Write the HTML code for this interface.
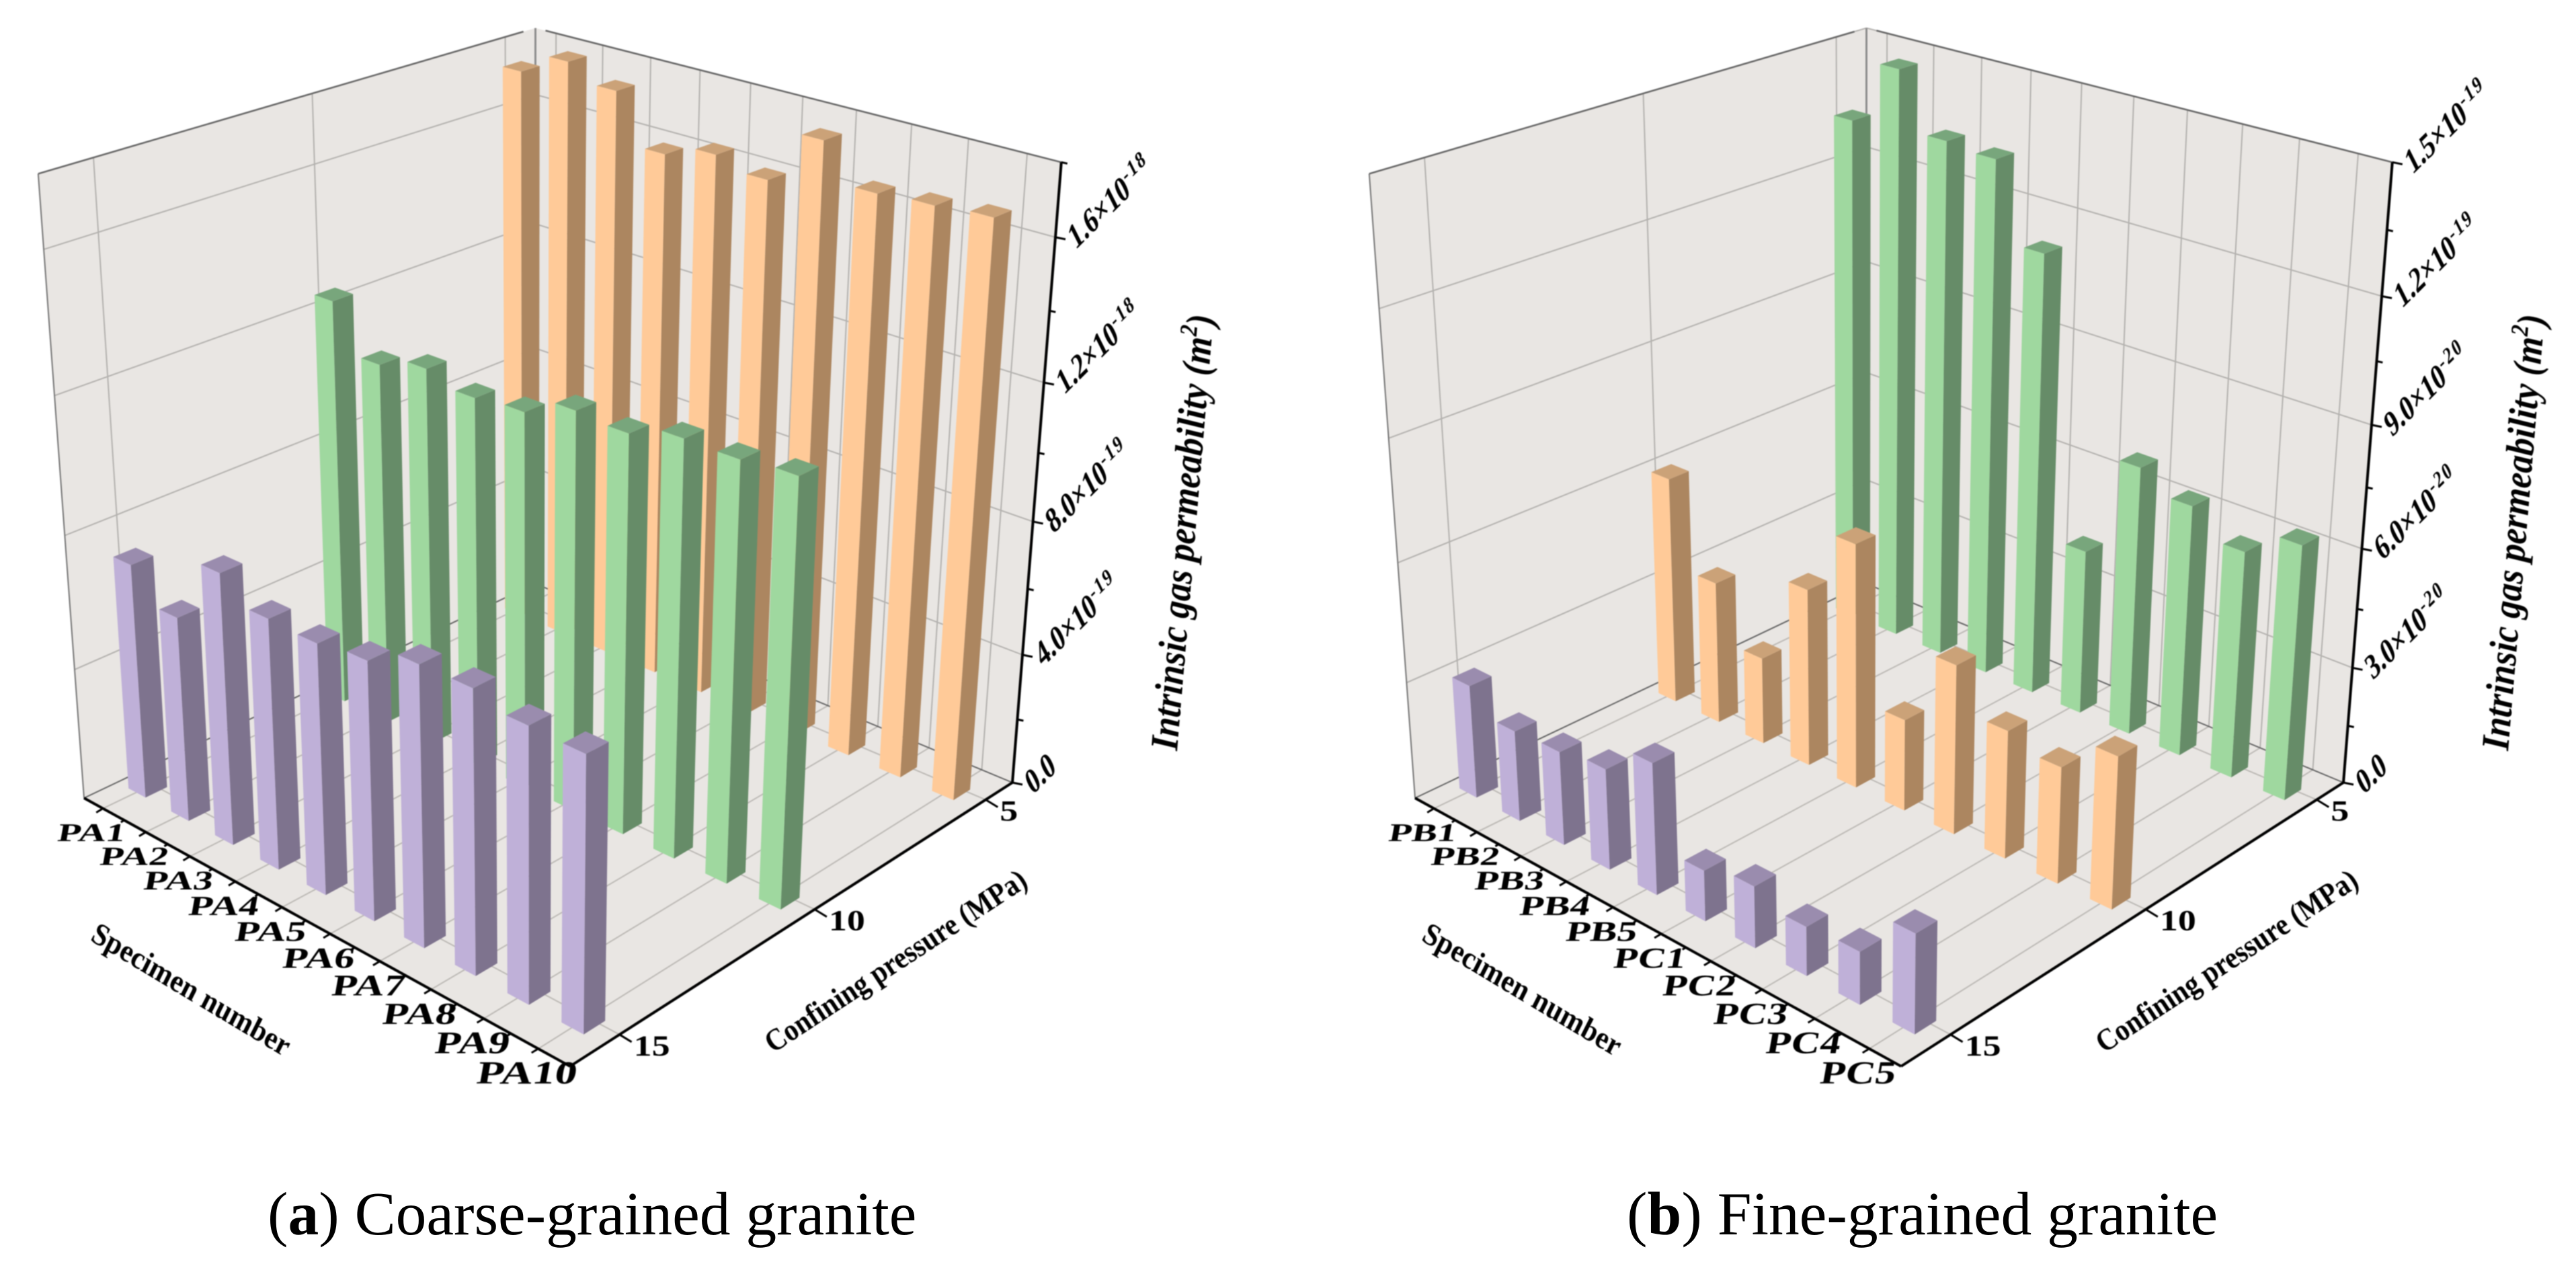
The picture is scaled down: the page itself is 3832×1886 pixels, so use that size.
<!DOCTYPE html>
<html lang="en">
<head>
<meta charset="utf-8">
<title>Intrinsic gas permeability of granite</title>
<style>
html,body{margin:0;padding:0;background:#fff;}
svg{display:block;}
text{font-family:"Liberation Serif",serif;fill:#000;}
#panelA,#panelB{filter:blur(0.8px);}
</style>
</head>
<body>
<svg id="figure" xmlns="http://www.w3.org/2000/svg" width="3832" height="1886" viewBox="0 0 3832 1886">
  <rect x="0" y="0" width="3832" height="1886" fill="#fff"/>
  <g id="panelA"></g>
  <g id="panelB" transform="translate(1980,0)"></g>
  <text x="398" y="1836" font-size="91.5">(<tspan font-weight="bold">a</tspan>) Coarse-grained granite</text>
  <text x="2420" y="1836" font-size="91.5">(<tspan font-weight="bold">b</tspan>) Fine-grained granite</text>
</svg>
<script>
// ---------- data ----------
const specimensCoarse = ['PA1','PA2','PA3','PA4','PA5','PA6','PA7','PA8','PA9','PA10'];
const specimensFine = ['PB1','PB2','PB3','PB4','PB5','PC1','PC2','PC3','PC4','PC5'];
const pressureLabels = ['15','10','5'];

// Coarse-grained, values in 1e-19 m2
const coarse15 = [7.12,6.18,8.10,7.42,7.36,7.53,8.09,8.11,7.79,7.74];
const coarse10 = [12.48,11.10,11.49,11.16,11.28,11.85,11.75,12.15,12.13,12.25];
const coarse5 = [17.35,18.0,17.53,16.10,16.49,16.19,17.69,16.65,16.75,16.86];

// Fine-grained, values in 1e-20 m2
const fine15 = [2.90,2.31,2.37,2.53,3.28,1.26,1.52,1.20,1.28,2.39];
const fine10 = [5.93,3.71,2.26,4.57,6.22,2.34,4.28,3.22,2.91,3.77];
const fine5 = [13.25,14.82,13.40,13.30,11.38,4.31,6.94,6.45,5.80,6.46];

const axisMaxCoarse = 18;
const majorTicksCoarse = [0,4,8,12,16];
const minorTicksCoarse = [2,6,10,14,18];
const mantissaCoarse = ['0.0','4.0','8.0','1.2','1.6'];
const exponentCoarse = ['','-19','-19','-18','-18'];

const axisMaxFine = 15;
const majorTicksFine = [0,3,6,9,12,15];
const minorTicksFine = [1.5,4.5,7.5,10.5,13.5];
const mantissaFine = ['0.0','3.0','6.0','9.0','1.2','1.5'];
const exponentFine = ['','-20','-20','-20','-19','-19'];

// ---------- camera (projective box) ----------
const cL=[125,1187], cF=[848,1586], cR=[1506,1164], cB=[796,868];
const vanish=[790,10243], lam=0.093;
const d1x=cF[0]-cR[0], d1y=cF[1]-cR[1], d2x=cB[0]-cR[0], d2y=cB[1]-cR[1];
const sx=cL[0]-cF[0]+cR[0]-cB[0], sy=cL[1]-cF[1]+cR[1]-cB[1];
const den=d1x*d2y-d1y*d2x;
const gg=(sx*d2y-sy*d2x)/den, hh=(d1x*sy-d1y*sx)/den;
const ax=cF[0]*(1+gg)-cL[0], bx=cB[0]*(1+hh)-cL[0];
const ay=cF[1]*(1+gg)-cL[1], by=cB[1]*(1+hh)-cL[1];
function project(u,v,w){
  const W=1+gg*u+hh*v-w*lam;
  return [(ax*u+bx*v+cL[0]-w*lam*vanish[0])/W,(ay*u+by*v+cL[1]-w*lam*vanish[1])/W];
}
function uTick(i){return 0.045+0.0998*i;}
function vTick(j){return 0.097+0.4165*j;}
function uBar(i){return 0.047+0.0998*i;}
function vBar(j){return 0.086+0.4155*j;}
const barDU=0.04, barDV=0.0426;

const palette={
  purple:{left:'#BFB0D8',right:'#7E738E',top:'#9A8CAE'},
  green:{left:'#9FD89F',right:'#668C68',top:'#78A67C'},
  orange:{left:'#FFCA98',right:'#AC8660',top:'#CBA278'}
};
const NS='http://www.w3.org/2000/svg';
function mk(tag,parent,props){
  const e=document.createElementNS(NS,tag);
  for(const k in props){e.setAttribute(k,props[k]);}
  parent.appendChild(e);
  return e;
}
function pts(list){return list.map(p=>p[0].toFixed(1)+','+p[1].toFixed(1)).join(' ');}
function seg(parent,a,b,color,width){
  return mk('line',parent,{x1:a[0].toFixed(1),y1:a[1].toFixed(1),x2:b[0].toFixed(1),y2:b[1].toFixed(1),stroke:color,'stroke-width':width});
}

function drawPanel(root,cfg){
  const n=cfg.specimens.length;
  const yw=function(val){return val/cfg.axisMax;};

  // walls and floor
  const leftWall=mk('polygon',root,{points:pts([project(0,0,0),project(0,0,1),project(0,1,1),project(0,1,0)]),fill:'#E9E6E3'});
  
  
  const rightWall=mk('polygon',root,{points:pts([project(0,1,0),project(0,1,1),project(1,1,1),project(1,1,0)]),fill:'#E9E6E3'});
  
  
  const floor=mk('polygon',root,{points:pts([project(0,0,0),project(1,0,0),project(1,1,0),project(0,1,0)]),fill:'#E9E6E3'});
  
  

  // grid lines
  for(let i=0;i<n;i++){
    const a=seg(root,project(uTick(i),1,0),project(uTick(i),1,1),'#B4B2AF',2);
    
    
    const b=seg(root,project(uTick(i),0,0),project(uTick(i),1,0),'#BDBAB6',2);
    
    
  }
  for(let j=0;j<pressureLabels.length;j++){
    const a=seg(root,project(0,vTick(j),0),project(0,vTick(j),1),'#B4B2AF',2);
    
    
    const b=seg(root,project(0,vTick(j),0),project(1,vTick(j),0),'#BDBAB6',2);
    
    
  }
  cfg.majors.forEach(function(val){
    if(val===0){return;}
    const w=yw(val);
    const a=seg(root,project(0,0,w),project(0,1,w),'#B4B2AF',2);
    
    
    const b=seg(root,project(0,1,w),project(1,1,w),'#B4B2AF',2);
    
    
  });

  // frame edges
  const edgeList=[
    ['left-wall-outer-edge',project(0,0,0),project(0,0,1),'#777',2],
    ['left-wall-top-edge',project(0,0,1),project(0,0.972,1),'#666',2.5],
    ['right-wall-top-edge',project(0.022,1,1),project(1,1,1),'#666',2.5],
    ['back-corner-edge',project(0,1,0),project(0,1,1),'#8E8E8E',3],
    ['floor-back-left-edge',project(0,0,0),project(0,1,0),'#666',2],
    ['floor-back-right-edge',project(0,1,0),project(1,1,0),'#666',2]
  ];
  edgeList.forEach(function(ed){
    const l=seg(root,ed[1],ed[2],ed[3],ed[4]);
    
    
  });
  const clip=mk('rect',root,{x:700,y:0,width:200,height:37,fill:'#fff'});
  
  

  // bars: back row first
  for(let j=cfg.rows.length-1;j>=0;j--){
    const row=cfg.rows[j];
    const col=palette[row.color];
    const rowG=mk('g',root,{});
    
    
    row.values.forEach(function(val,i){
      const u0=uBar(i)-barDU/2,u1=uBar(i)+barDU/2,v0=vBar(j)-barDV/2,v1=vBar(j)+barDV/2;
      const w=yw(val);
      const g=mk('g',rowG,{});
      
      
      const lf=mk('polygon',g,{fill:col.left,points:pts([project(u0,v0,0),project(u1,v0,0),project(u1,v0,w),project(u0,v0,w)])});
      
      
      const rf=mk('polygon',g,{fill:col.right,points:pts([project(u1,v0,0),project(u1,v1,0),project(u1,v1,w),project(u1,v0,w)])});
      
      
      const tf=mk('polygon',g,{fill:col.top,points:pts([project(u0,v0,w),project(u1,v0,w),project(u1,v1,w),project(u0,v1,w)])});
      
      
    });
  }

  // axes
  const specAxis=seg(root,project(0,0,0),project(1,0,0),'#000',4);
  
  
  const presAxis=seg(root,project(1,0,0),project(1,1,0),'#000',4);
  
  
  const valAxis=seg(root,project(1,1,0),project(1,1,1),'#000',4);
  
  

  // specimen ticks and labels
  cfg.specimens.forEach(function(name,i){
    const p=project(uTick(i),0,0);
    const t=seg(root,p,[p[0]-10,p[1]+6],'#000',3);
    
    
    if(i<n-1){
      const q=project(uTick(i)+0.0499,0,0);
      const m=seg(root,q,[q[0]-5,q[1]+3],'#000',3);
      
      
    }
    const fs=38+i*1.1;
    const len=(100+1.3*i)*(name.length===4?1.33:1);
    const tx=mk('text',root,{
      'font-size':fs.toFixed(1),'font-weight':'bold','text-anchor':'middle',
      textLength:len.toFixed(1),lengthAdjust:'spacingAndGlyphs',
      transform:'translate('+(p[0]-19).toFixed(1)+','+(p[1]+36+fs*0.33).toFixed(1)+') skewX(-10)'
    });
    tx.textContent=name;
    
    
  });

  // pressure ticks and labels
  pressureLabels.forEach(function(name,j){
    const p=project(1,vTick(j),0);
    const t=seg(root,p,[p[0]+18,p[1]+11],'#000',3);
    
    
    const tx=mk('text',root,{
      x:(p[0]+21).toFixed(1),y:(p[1]+31).toFixed(1),'font-size':43,'font-weight':'bold',
      textLength:name.length*27,lengthAdjust:'spacingAndGlyphs'
    });
    tx.textContent=name;
    
    
  });

  // value ticks and labels
  cfg.minors.forEach(function(val){
    const p=project(1,1,yw(val));
    const t=seg(root,p,[p[0]+9,p[1]+2],'#000',3);
    
    
  });
  cfg.majors.forEach(function(val,k){
    const p=project(1,1,yw(val));
    const t=seg(root,p,[p[0]+15,p[1]+3],'#000',3);
    
    
    const exp=cfg.exponents[k];
    const sxx=1.02*0.707, syy=1.2;
    const m=[sxx,-sxx,0.447*syy,0.894*syy,p[0]+30,p[1]+19].map(function(c){return c.toFixed(3);}).join(' ');
    const tx=mk('text',root,{'font-size':41,'font-weight':'bold',transform:'matrix('+m+')'});
    
    
    const base=mk('tspan',tx,{});
    base.textContent=cfg.mantissas[k]+(exp?'×10':'');
    
    
    if(exp){
      const sup=mk('tspan',tx,{'font-size':27,dy:-15,'letter-spacing':3});
      sup.textContent=exp;
      
      
    }
  });

  // axis titles
  const yTitle=mk('text',root,{'font-size':51,'font-weight':'bold','font-style':'italic',transform:'translate(1751,1117) rotate(-85.2) scale(1.015,1.15)'});
  
  
  const yT1=mk('tspan',yTitle,{});
  yT1.textContent='Intrinsic gas permeability (m';
  
  
  const yT2=mk('tspan',yTitle,{'font-size':32,dy:-20});
  yT2.textContent='2';
  
  
  const yT3=mk('tspan',yTitle,{dy:20});
  yT3.textContent=')';
  
  

  const xTitle=mk('text',root,{'font-size':46,'font-weight':'bold',textLength:338,lengthAdjust:'spacingAndGlyphs',transform:'matrix(0.857 0.515 -0.45 0.893 133 1398)'});
  xTitle.textContent='Specimen number';
  
  

  const zTitle=mk('text',root,{'font-size':46,'font-weight':'bold',textLength:456,lengthAdjust:'spacingAndGlyphs',transform:'translate(1150,1567) rotate(-33.3)'});
  zTitle.textContent='Confining pressure (MPa)';
  
  
}

drawPanel(document.getElementById('panelA'),{
  specimens:specimensCoarse,axisMax:axisMaxCoarse,majors:majorTicksCoarse,minors:minorTicksCoarse,
  mantissas:mantissaCoarse,exponents:exponentCoarse,
  rows:[{color:'purple',values:coarse15},{color:'green',values:coarse10},{color:'orange',values:coarse5}]
});
drawPanel(document.getElementById('panelB'),{
  specimens:specimensFine,axisMax:axisMaxFine,majors:majorTicksFine,minors:minorTicksFine,
  mantissas:mantissaFine,exponents:exponentFine,
  rows:[{color:'purple',values:fine15},{color:'orange',values:fine10},{color:'green',values:fine5}]
});
</script>
</body>
</html>
